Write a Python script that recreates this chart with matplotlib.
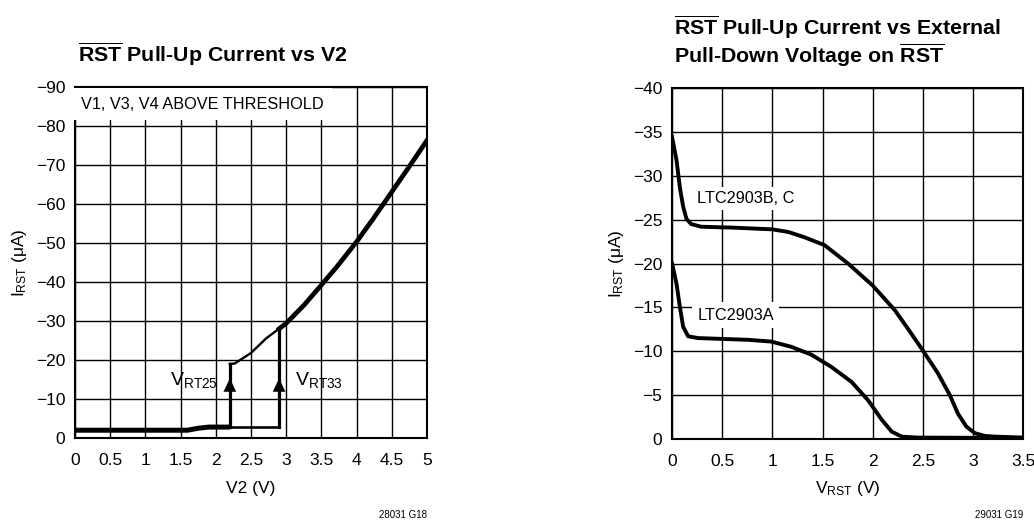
import matplotlib
matplotlib.use("Agg")
import matplotlib.pyplot as plt
from matplotlib import font_manager

# -----------------------------
# Data
# -----------------------------
# left plot: RST pull-up current vs V2
v2_base = [0.0, 1.6, 1.75, 1.9, 2.2]
i_base = [-2.0, -2.0, -2.5, -2.8, -2.8]
v2_mid = [2.2, 2.9]
i_mid = [-2.8, -2.8]
v2_curve_lo = [2.2, 2.27, 2.5, 2.72, 3.0]
i_curve_lo = [-19.0, -19.1, -21.8, -25.6, -29.4]
v2_curve_hi = [2.9, 3.0, 3.25, 3.48, 3.72, 4.0, 4.24, 4.47, 4.73, 5.0]
i_curve_hi = [-28.0, -29.4, -34.0, -38.8, -43.9, -50.3, -56.3, -62.3, -69.1, -76.3]
vrt25 = 2.2
vrt25_top = -19.0
vrt33 = 2.9
vrt33_top = -28.3

# right plot: pull-up current vs external pull-down voltage
vrst_bc = [0.0, 0.044, 0.077, 0.11, 0.143, 0.19, 0.29, 0.6, 1.0, 1.16, 1.32, 1.52,
           1.755, 2.0, 2.22, 2.35, 2.5, 2.65, 2.77, 2.85, 2.935, 3.02, 3.12, 3.22, 3.5]
irst_bc = [-34.4, -31.8, -28.7, -26.5, -25.1, -24.5, -24.2, -24.1, -23.9, -23.6, -23.0,
           -22.1, -20.0, -17.5, -14.7, -12.6, -10.1, -7.5, -5.0, -2.9, -1.4, -0.65,
           -0.34, -0.26, -0.15]
vrst_a = [0.0, 0.044, 0.077, 0.11, 0.16, 0.26, 0.76, 0.99, 1.19, 1.39, 1.59, 1.79,
          1.955, 2.09, 2.19, 2.29, 2.45, 3.5]
irst_a = [-20.0, -17.7, -15.1, -12.8, -11.7, -11.5, -11.3, -11.1, -10.5, -9.6, -8.2,
          -6.5, -4.4, -2.2, -0.83, -0.26, -0.15, -0.1]

left_xticks = [0, 0.5, 1, 1.5, 2, 2.5, 3, 3.5, 4, 4.5, 5]
left_xlabels = ["0", "0.5", "1", "1.5", "2", "2.5", "3", "3.5", "4", "4.5", "5"]
left_yticks = [0, -10, -20, -30, -40, -50, -60, -70, -80, -90]
right_xticks = [0, 0.5, 1, 1.5, 2, 2.5, 3, 3.5]
right_xlabels = ["0", "0.5", "1", "1.5", "2", "2.5", "3", "3.5"]
right_yticks = [0, -5, -10, -15, -20, -25, -30, -35, -40]

# -----------------------------
# Fonts (narrow Helvetica look if available)
# -----------------------------
names = {f.name for f in font_manager.fontManager.ttflist}
FONT = "Liberation Sans Narrow" if "Liberation Sans Narrow" in names else "Liberation Sans"
plt.rcParams["font.family"] = [FONT, "DejaVu Sans"]
plt.rcParams["mathtext.fontset"] = "custom"
plt.rcParams["mathtext.rm"] = FONT
plt.rcParams["mathtext.it"] = FONT
plt.rcParams["mathtext.bf"] = FONT + ":bold"

fig = plt.figure(figsize=(10.34, 5.25), dpi=100)
ax1 = fig.add_axes([0.0725, 0.1657, 0.3404, 0.6686])
ax2 = fig.add_axes([0.650, 0.164, 0.3394, 0.668])


def style_axes(ax, xticks, xlabels, yticks, ylim):
    ax.set_xticks(xticks)
    ax.set_xticklabels(xlabels)
    ax.set_yticks(yticks)
    ax.set_xlim(xticks[0], xticks[-1])
    ax.set_ylim(*ylim)
    ax.grid(True, color="black", linewidth=1.0)
    ax.tick_params(length=0, labelsize=12.5)
    ax.tick_params(axis="x", pad=11)
    ax.tick_params(axis="y", pad=7)
    for s in ax.spines.values():
        s.set_linewidth(1.5)
    ax.set_axisbelow(True)


# -----------------------------
# Left plot
# -----------------------------
style_axes(ax1, left_xticks, left_xlabels, left_yticks, (0, -90))
ax1.plot(v2_base, i_base, color="black", lw=3.6, solid_capstyle="butt")
ax1.plot(v2_mid, i_mid, color="black", lw=1.9)
ax1.plot([vrt25, vrt25], [i_base[-1], vrt25_top], color="black", lw=2.3)
ax1.plot([vrt33, vrt33], [i_mid[-1], vrt33_top], color="black", lw=2.3)
ax1.plot(v2_curve_lo, i_curve_lo, color="black", lw=1.7)
ax1.plot(v2_curve_hi, i_curve_hi, color="black", lw=3.4)
for xa in (vrt25, vrt33):
    ax1.annotate("", xy=(xa, -16.0), xytext=(xa, -12.8),
                 arrowprops=dict(arrowstyle="-|>,head_length=0.95,head_width=0.45",
                                 color="black", lw=0.1))
ax1.text(2.03, -14.8, r"V$_{\mathrm{RT25}}$", ha="right", va="center", fontsize=14)
ax1.text(3.12, -14.8, r"V$_{\mathrm{RT33}}$", ha="left", va="center", fontsize=14)
ax1.text(0.08, -85.6, "V1, V3, V4 ABOVE THRESHOLD", ha="left", va="center", fontsize=11.7,
         bbox=dict(facecolor="white", edgecolor="none", pad=6))
ax1.set_xlabel("V2 (V)", fontsize=12.5, labelpad=9)
ax1.set_ylabel(r"I$_{\mathrm{RST}}$ ($\mu$A)", fontsize=12.5, labelpad=5)

# -----------------------------
# Right plot
# -----------------------------
style_axes(ax2, right_xticks, right_xlabels, right_yticks, (0, -40))
ax2.plot(vrst_bc, irst_bc, color="black", lw=2.8)
ax2.plot(vrst_a, irst_a, color="black", lw=2.8)
ax2.text(0.25, -27.4, "LTC2903B, C", ha="left", va="center", fontsize=11.7,
         bbox=dict(facecolor="white", edgecolor="none", pad=3))
ax2.text(0.25, -14.1, "LTC2903A", ha="left", va="center", fontsize=11.7,
         bbox=dict(facecolor="white", edgecolor="none", pad=4))
ax2.set_xlabel(r"V$_{\mathrm{RST}}$ (V)", fontsize=12.5, labelpad=7)
ax2.set_ylabel(r"I$_{\mathrm{RST}}$ ($\mu$A)", fontsize=12.5, labelpad=5)

# -----------------------------
# Titles and figure codes
# -----------------------------
fig.text(78 / 1034, 1 - 62 / 525, r"$\overline{\mathbf{RST}}$ Pull-Up Current vs V2",
         ha="left", va="baseline", fontsize=15.4, fontweight="bold")
fig.text(674 / 1034, 1 - 35 / 525, r"$\overline{\mathbf{RST}}$ Pull-Up Current vs External",
         ha="left", va="baseline", fontsize=15.4, fontweight="bold")
fig.text(674 / 1034, 1 - 63 / 525, r"Pull-Down Voltage on $\overline{\mathbf{RST}}$",
         ha="left", va="baseline", fontsize=15.4, fontweight="bold")
fig.text(427 / 1034, 1 - 515 / 525, "28031 G18", ha="right", va="center", fontsize=7)
fig.text(1023 / 1034, 1 - 515 / 525, "29031 G19", ha="right", va="center", fontsize=7)

fig.savefig("out.png", dpi=100)
